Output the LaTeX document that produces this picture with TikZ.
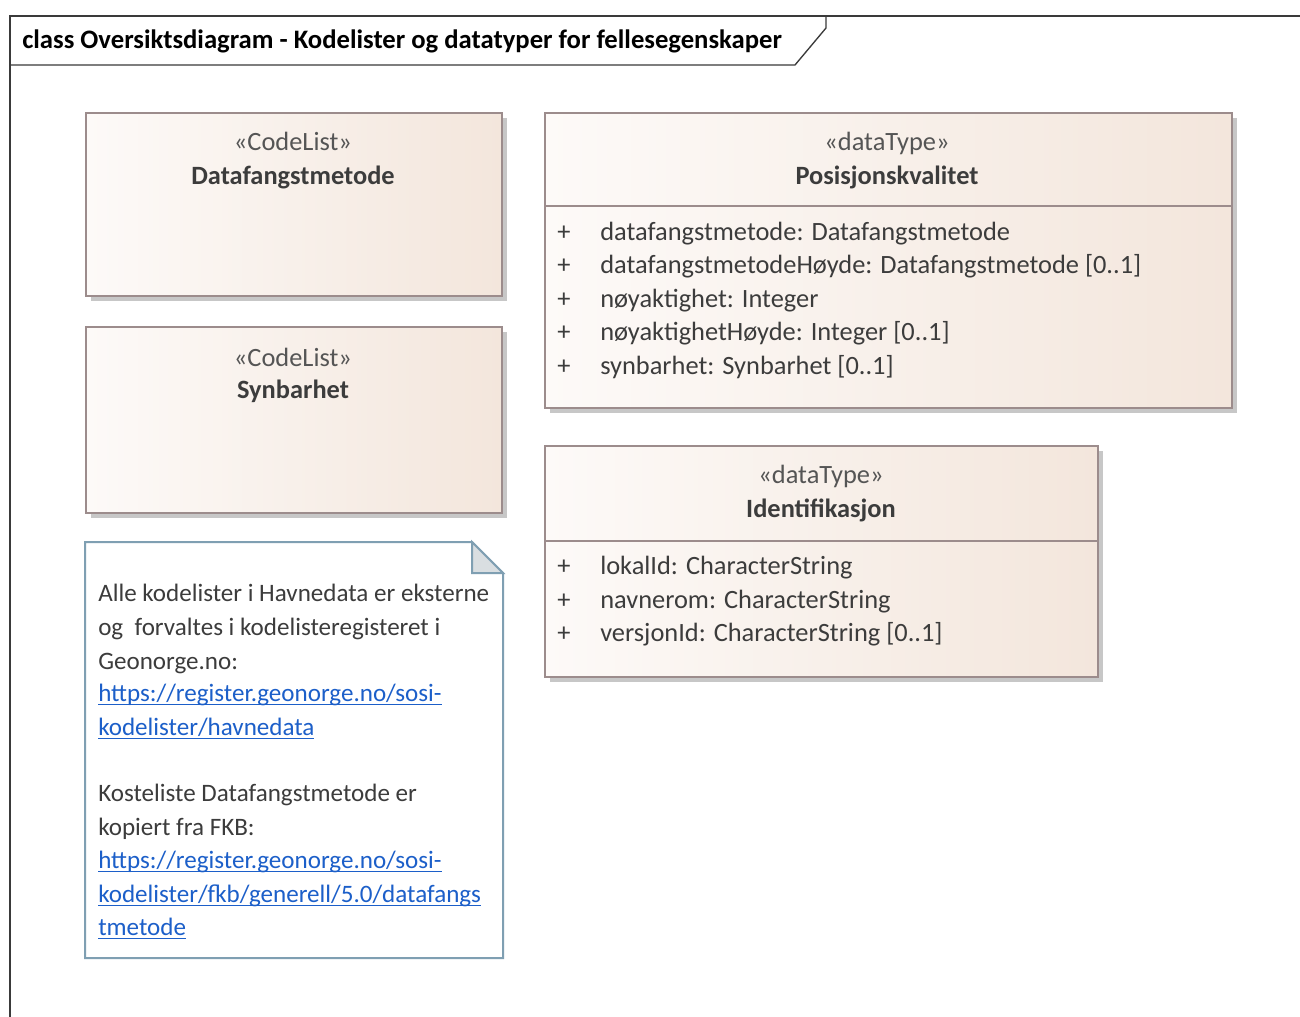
\documentclass[tikz,border=0pt]{standalone}
\usepackage{fontspec}
\setmainfont{Carlito}
\usetikzlibrary{shadows}

% underline for hyperlinks, with a thicker rule
\newcommand\linkul[1]{\setbox0=\hbox{#1}\rlap{\rule[-3.2pt]{\wd0}{1.3pt}}\box0}

\definecolor{frameline}{HTML}{3A3A3A}
\definecolor{boxline}{HTML}{9C8C8C}
\definecolor{boxleft}{HTML}{FDFAF8}
\definecolor{boxright}{HTML}{F3E6DC}
\definecolor{txt}{HTML}{3C3C3C}
\definecolor{stereo}{HTML}{555555}
\definecolor{noteline}{HTML}{7F9FB2}
\definecolor{notefold}{HTML}{D9DEE1}
\definecolor{linkblue}{HTML}{1C5FC9}

\tikzset{
  umlbox/.style={draw=boxline, line width=1.5pt, left color=boxleft, right color=boxright,
    anchor=north west, inner sep=0pt,
    drop shadow={shadow xshift=4pt, shadow yshift=-4pt, fill=black!22, opacity=1}},
  stereotxt/.style={anchor=base, inner sep=0pt, text=stereo, font=\fontsize{19.8}{22}\selectfont},
  nametxt/.style={anchor=base, inner sep=0pt, text=txt, font=\fontsize{19.8}{22}\selectfont\bfseries},
  attrtxt/.style={anchor=base west, inner sep=0pt, text=txt, font=\fontsize{19.8}{22}\selectfont},
  notetxt/.style={anchor=base west, inner sep=0pt, text=txt, font=\fontsize{18.8}{22}\selectfont},
  linktxt/.style={anchor=base west, inner sep=0pt, text=linkblue, font=\fontsize{18.8}{22}\selectfont},
  sepline/.style={draw=boxline, line width=1.5pt},
}

\begin{document}
\begin{tikzpicture}[x=0.75pt, y=-0.75pt]
\useasboundingbox (0,0) rectangle (1300,1017);
\fill[white] (0,0) rectangle (1300,1017);

% diagram frame with title tab
\draw[frameline, line width=1pt] (10,1017) -- (10,16) -- (1300,16);
\draw[frameline, line width=1pt] (10,65) -- (795,65) -- (826,28) -- (826,16);
\node[anchor=base west, inner sep=0pt, text=black, font=\fontsize{20}{22}\selectfont\bfseries]
  (title) at (22,48) {class Oversiktsdiagram - Kodelister og datatyper for fellesegenskaper};

% code lists
\node[umlbox, minimum width=312pt, minimum height=137.25pt] (datafangst) at (85,112) {};
\node[stereotxt] (datafangstS) at (293,150) {«CodeList»};
\node[nametxt] (datafangstN) at (293,184) {Datafangstmetode};

\node[umlbox, minimum width=312pt, minimum height=139.5pt] (synbarhet) at (85,326) {};
\node[stereotxt] (synbarhetS) at (293,366) {«CodeList»};
\node[nametxt] (synbarhetN) at (293,398) {Synbarhet};

% data type Posisjonskvalitet
\node[umlbox, minimum width=515.25pt, minimum height=221.25pt] (posisjon) at (544,112) {};
\draw[sepline] (544,206) -- (1231,206);
\node[stereotxt] (posisjonS) at (887,150) {«dataType»};
\node[nametxt] (posisjonN) at (887,184) {Posisjonskvalitet};
\foreach \i/\yy/\t in {1/240/{datafangstmetode: Datafangstmetode},
                       2/273/{datafangstmetodeHøyde: Datafangstmetode [0..1]},
                       3/307/{nøyaktighet: Integer},
                       4/340/{nøyaktighetHøyde: Integer [0..1]},
                       5/374/{synbarhet: Synbarhet [0..1]}} {
  \node[attrtxt] (posP\i) at (557,\yy) {+};
  \node[attrtxt] (posA\i) at (600,\yy) {\t};
}

% data type Identifikasjon
\node[umlbox, minimum width=414.75pt, minimum height=173.25pt] (ident) at (544,445) {};
\draw[sepline] (544,541) -- (1097,541);
\node[stereotxt] (identS) at (821,483) {«dataType»};
\node[nametxt] (identN) at (821,517) {Identifikasjon};
\foreach \i/\yy/\t in {1/574/{lokalId: CharacterString},
                       2/608/{navnerom: CharacterString},
                       3/641/{versjonId: CharacterString [0..1]}} {
  \node[attrtxt] (idP\i) at (557,\yy) {+};
  \node[attrtxt] (idA\i) at (600,\yy) {\t};
}

% note with folded corner
\draw[noteline, line width=1.5pt, fill=white]
  (85,542) -- (472,542) -- (503,573) -- (503,958) -- (85,958) -- cycle;
\draw[noteline, line width=1.5pt, fill=notefold]
  (472,542) -- (472,573) -- (503,573) -- cycle;
\node[notetxt] (n1) at (98,601) {Alle kodelister i Havnedata er eksterne};
\node[notetxt] (n2) at (98,635) {og \ forvaltes i kodelisteregisteret i};
\node[notetxt] (n3) at (98,669) {Geonorge.no:};
\node[linktxt] (n4) at (98,701) {\linkul{https://register.geonorge.no/sosi-}};
\node[linktxt] (n5) at (98,735) {\linkul{kodelister/havnedata}};
\node[notetxt] (n6) at (98,801) {Kosteliste Datafangstmetode er};
\node[notetxt] (n7) at (98,835) {kopiert fra FKB:};
\node[linktxt] (n8) at (98,868) {\linkul{https://register.geonorge.no/sosi-}};
\node[linktxt] (n9) at (98,902) {\linkul{kodelister/fkb/generell/5.0/datafangs}};
\node[linktxt] (n10) at (98,935) {\linkul{tmetode}};
\end{tikzpicture}
\end{document}
